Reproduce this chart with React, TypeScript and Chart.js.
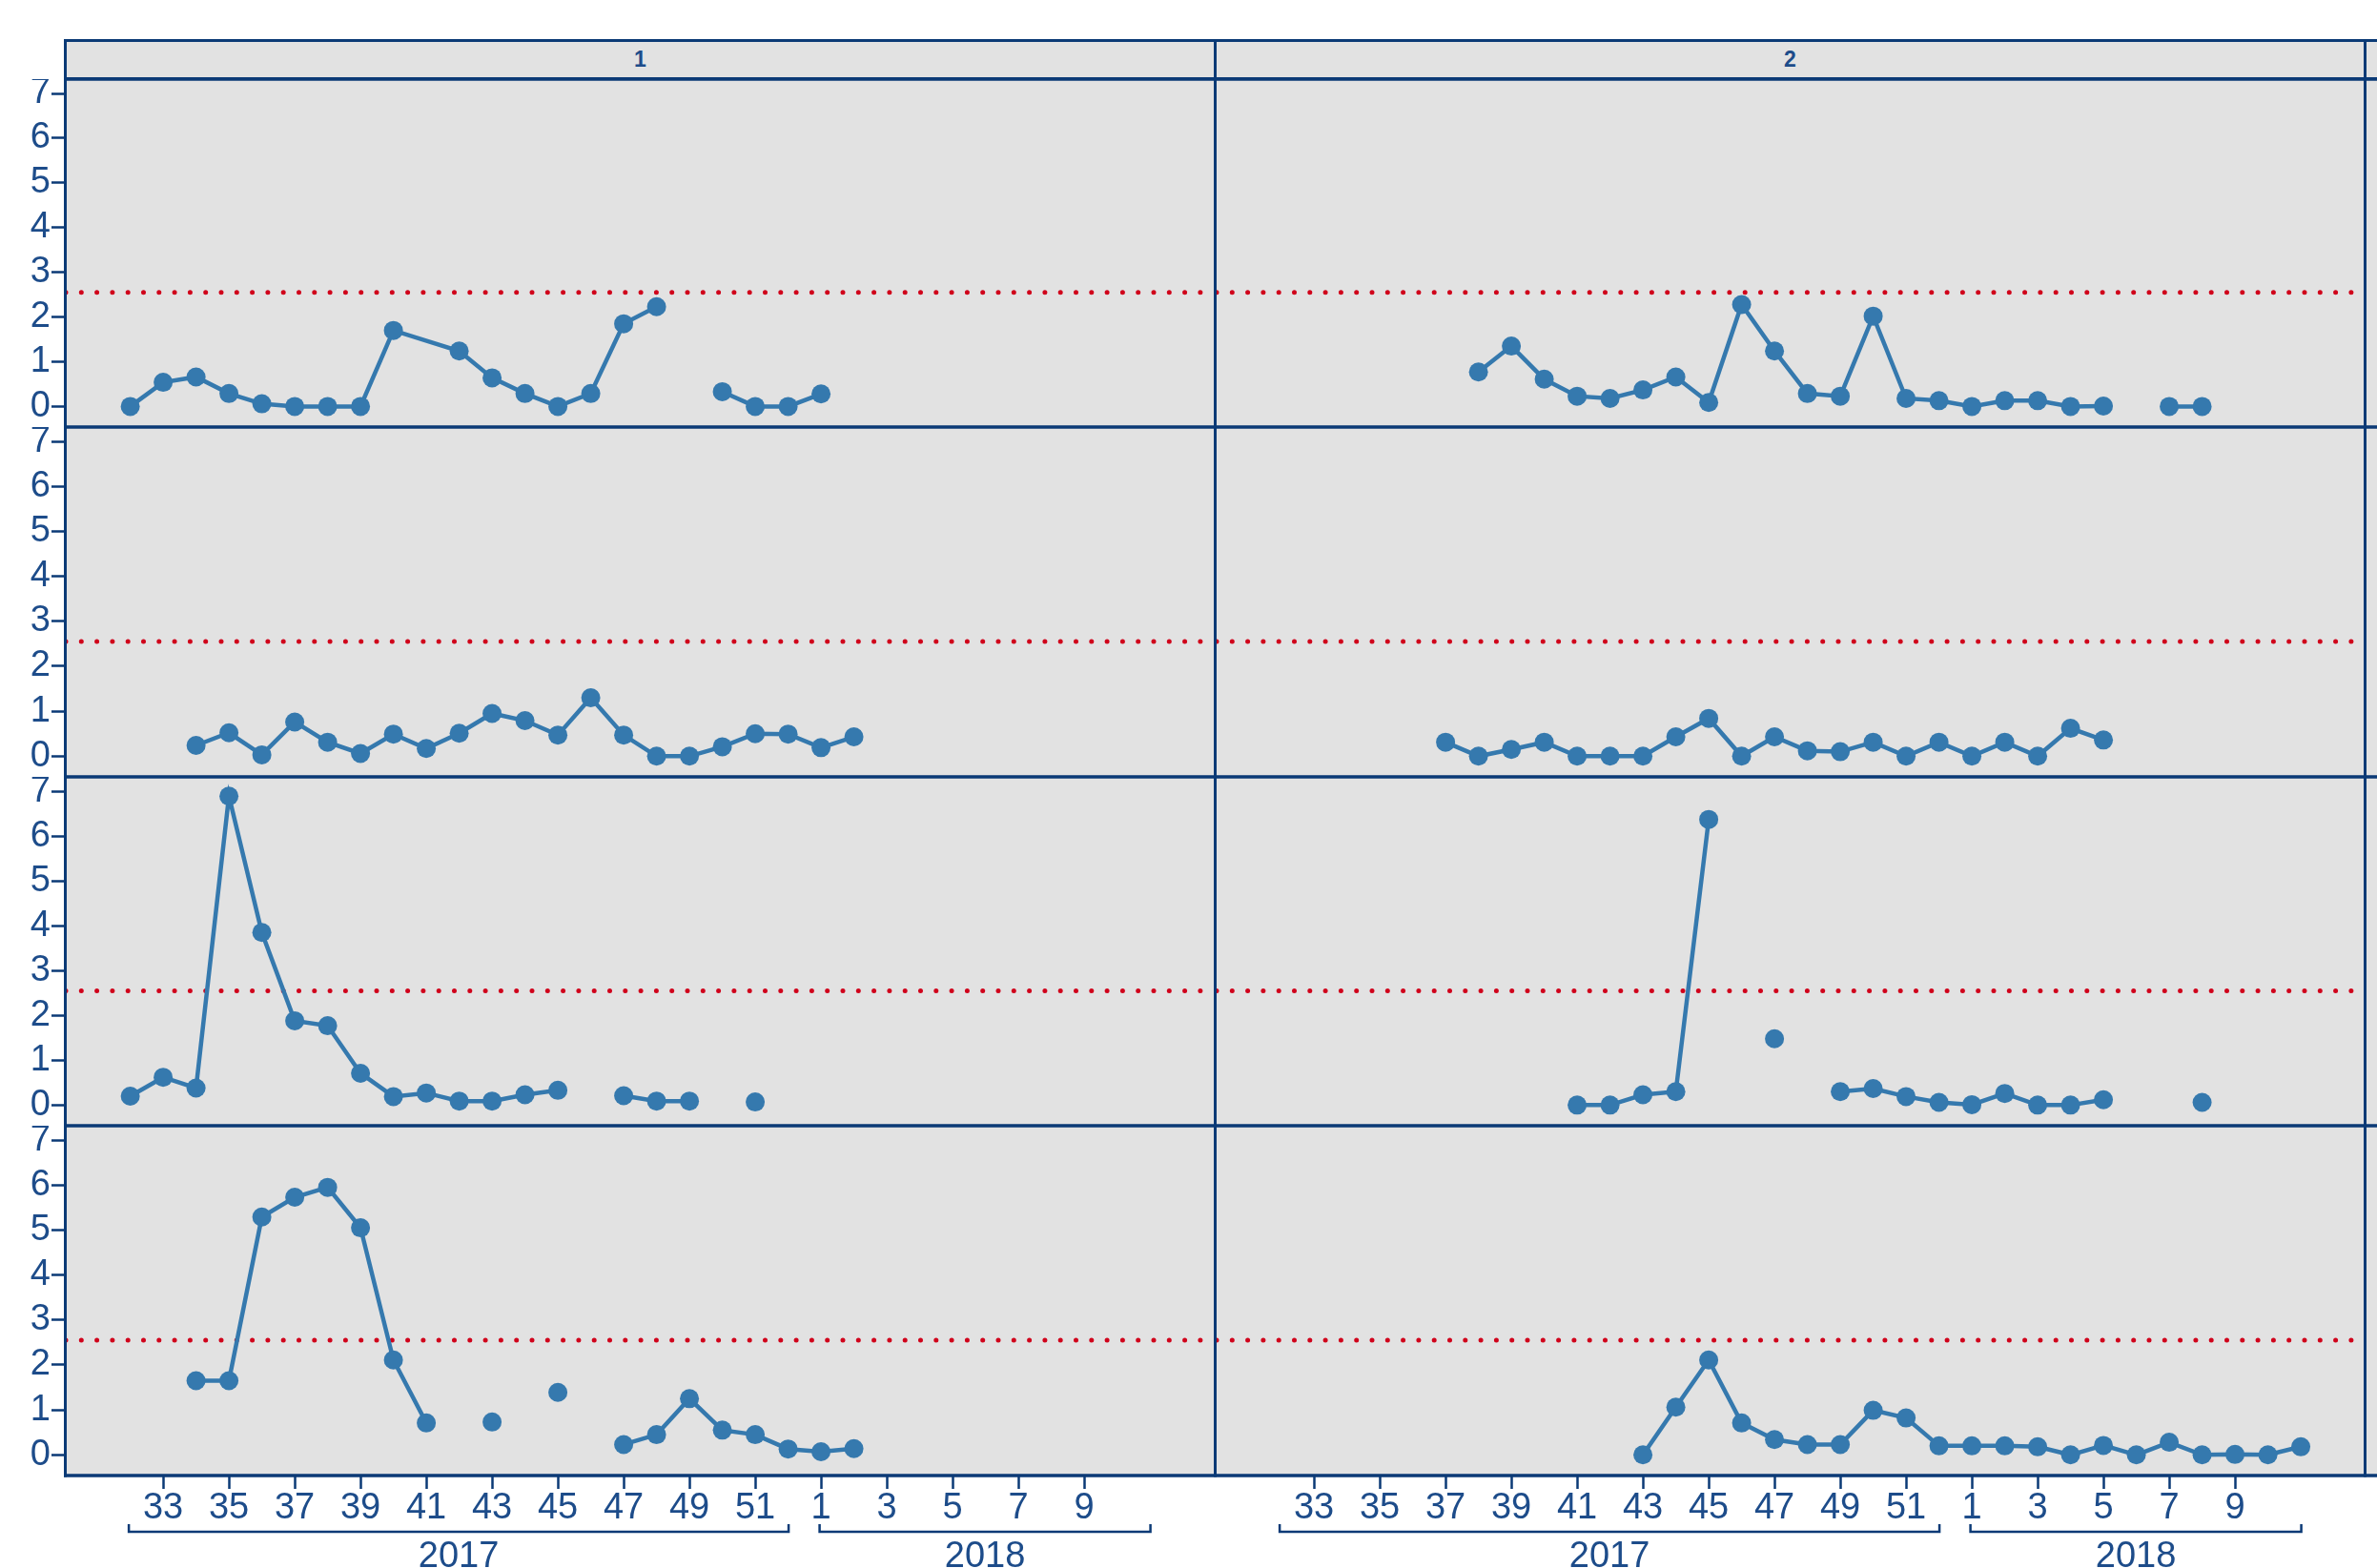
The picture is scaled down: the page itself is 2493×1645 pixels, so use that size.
import React, { useEffect, useRef } from 'react';
import { Chart, registerables } from 'chart.js';

Chart.register(...registerables);

// ---------- data ----------
// null = week present but no value (line breaks); NO_ROW = week absent (line joins its neighbours)
const NO_ROW = undefined;
const WEEKS = ['32', '33', '34', '35', '36', '37', '38', '39', '40', '41', '42', '43', '44', '45', '46', '47', '48', '49', '50', '51', '52',
  '1', '2', '3', '4', '5', '6', '7', '8', '9', '10', '11'];
const X_TICK_LABELS = ['33', '35', '37', '39', '41', '43', '45', '47', '49', '51', '1', '3', '5', '7', '9'];
const Y_TICKS = [0, 1, 2, 3, 4, 5, 6, 7];
const YEARS = ['2017', '2018'];
const YEAR_FIRST_WEEK = ['32', '1'];
const YEAR_LAST_WEEK = ['52', '11'];
const FACETS = ['1', '2'];
const THRESHOLD = 2.55;

const ROW1_F1 = [0, 0.54, 0.66, 0.29, 0.06, 0, 0, 0, 1.70, NO_ROW, 1.24, 0.64, 0.29, 0, 0.29, 1.85, 2.23, null, 0.33, 0, 0,
  0.28, null, null, null, null, null, null, null, null, null, null];
const ROW1_F2 = [null, null, null, null, null, null, 0.77, 1.35, 0.61, 0.23, 0.18, 0.37, 0.66, 0.09, 2.28, 1.24, 0.29, 0.23, 2.02, 0.18, 0.13,
  0, 0.13, 0.13, 0, 0.01, null, 0, 0, null, null, null];
const ROW2_F1 = [null, null, 0.24, 0.52, 0.03, 0.76, 0.31, 0.06, 0.49, 0.17, 0.51, 0.95, 0.79, 0.47, 1.30, 0.47, 0, 0, 0.21, 0.50, 0.49,
  0.19, 0.43, null, null, null, null, null, null, null, null, null];
const ROW2_F2 = [null, null, null, null, null, 0.31, 0, 0.15, 0.31, 0, 0, 0, 0.43, 0.84, 0, 0.43, 0.12, 0.10, 0.31, 0, 0.31,
  0, 0.31, 0, 0.62, 0.36, null, null, null, null, null, null];
const ROW3_F1 = [0.20, 0.62, 0.38, 6.89, 3.85, 1.88, 1.77, 0.71, 0.19, 0.27, 0.09, 0.09, 0.23, 0.33, null, 0.21, 0.09, 0.09, null, 0.07, null,
  null, null, null, null, null, null, null, null, null, null, null];
const ROW3_F2 = [null, null, null, null, null, null, null, null, null, 0, 0, 0.23, 0.30, 6.37, null, 1.48, null, 0.30, 0.37, 0.19, 0.06,
  0.01, 0.26, 0, 0, 0.12, null, null, 0.06, null, null, null];
const ROW4_F1 = [null, null, 1.65, 1.65, 5.29, 5.73, 5.95, 5.05, 2.11, 0.71, null, 0.73, null, 1.39, null, 0.23, 0.45, 1.25, 0.55, 0.45, 0.13,
  0.07, 0.14, null, null, null, null, null, null, null, null, null];
const ROW4_F2 = [null, null, null, null, null, null, null, null, null, null, null, 0, 1.06, 2.11, 0.71, 0.34, 0.23, 0.23, 0.99, 0.82, 0.20,
  0.20, 0.20, 0.18, 0, 0.21, 0, 0.28, 0, 0.01, 0, 0.18];

const GRID_VALUES = [
  [ROW1_F1, ROW1_F2],
  [ROW2_F1, ROW2_F2],
  [ROW3_F1, ROW3_F2],
  [ROW4_F1, ROW4_F2],
];

// ---------- style / layout ----------
const NAVY = '#0b3a76';
const TEXT = '#1d4c8a';
const BLUE = '#3579ae';
const RED = '#d0021b';
const PANEL_BG = '#e2e2e2';
const FONT = '"Liberation Sans", Arial, sans-serif';

const X_MIN = -1.96;
const X_MAX = 32.94;
const Y_MIN = -0.46;
const Y_MAX = 7.32;

const COL_LEFT = [0, 1276];
const COL_W = [1276, 1217];
const COL_PAD_RIGHT = [3, 13];
const ROW_TOP = [83, 448, 815, 1181];
const ROW_H = [365, 367, 366, 464];

const framePlugin = {
  id: 'facetFrame',
  beforeDraw(chart: any, _args: any, opts: any) {
    const { ctx, chartArea: a } = chart;
    ctx.save();
    ctx.fillStyle = PANEL_BG;
    ctx.fillRect(a.left, a.top, a.right - a.left, a.bottom - a.top);
    if (opts.col === 1) {
      ctx.fillRect(a.right + 2, a.top, chart.width - a.right - 2, a.bottom - a.top);
    }
    ctx.restore();
  },
  afterDraw(chart: any, _args: any, opts: any) {
    const { ctx, chartArea: a } = chart;
    ctx.save();
    ctx.strokeStyle = NAVY;
    ctx.lineWidth = 3.5;
    const xs = opts.col === 0 ? a.left - 2 : 0;
    const xe = chart.width;
    ctx.beginPath();
    ctx.moveTo(xs, a.top); ctx.lineTo(xe, a.top);
    ctx.moveTo(xs, a.bottom); ctx.lineTo(xe, a.bottom);
    ctx.stroke();
    ctx.lineWidth = 3;
    ctx.beginPath();
    if (opts.col === 0) {
      ctx.moveTo(a.left - 0.5, a.top); ctx.lineTo(a.left - 0.5, a.bottom + 1.5);
      ctx.moveTo(a.right + 1.5, a.top); ctx.lineTo(a.right + 1.5, a.bottom + 1.5);
    } else {
      ctx.moveTo(a.right + 0.5, a.top); ctx.lineTo(a.right + 0.5, a.bottom + 1.5);
    }
    ctx.stroke();

    if (opts.bottom) {
      const sx = chart.scales.x;
      ctx.lineWidth = 2.5;
      ctx.fillStyle = TEXT;
      ctx.font = '38px ' + FONT;
      ctx.textAlign = 'center';
      ctx.textBaseline = 'middle';
      YEARS.forEach((yr, i) => {
        const x1 = sx.getPixelForValue(WEEKS.indexOf(YEAR_FIRST_WEEK[i])) - 1.5;
        const x2 = sx.getPixelForValue(WEEKS.indexOf(YEAR_LAST_WEEK[i])) + 0.5;
        const y = a.bottom + 59;
        ctx.beginPath();
        ctx.moveTo(x1, y - 8); ctx.lineTo(x1, y); ctx.lineTo(x2, y); ctx.lineTo(x2, y - 8);
        ctx.stroke();
        ctx.fillText(yr, (x1 + x2) / 2, a.bottom + 86);
      });
    }
    ctx.restore();
  },
};

function Panel({ row, col }: { row: number; col: number }) {
  const ref = useRef<HTMLCanvasElement | null>(null);
  const values = GRID_VALUES[row][col];
  const isBottom = row === 3;
  const isLeft = col === 0;

  useEffect(() => {
    if (!ref.current) return;
    const points = values
      .map((v, i) => ({ x: i, y: v }))
      .filter((p) => p.y !== undefined);
    const chart = new Chart(ref.current, {
      type: 'line',
      data: {
        datasets: [
          {
            data: points as any,
            borderColor: BLUE,
            backgroundColor: BLUE,
            borderWidth: 4.5,
            pointRadius: 10,
            pointBackgroundColor: BLUE,
            pointBorderWidth: 0,
            spanGaps: false,
            tension: 0,
            order: 1,
          },
          {
            data: [{ x: X_MIN, y: THRESHOLD }, { x: X_MAX, y: THRESHOLD }] as any,
            borderColor: RED,
            borderWidth: 5,
            borderDash: [0, 16.3],
            borderCapStyle: 'round',
            pointRadius: 0,
            order: 2,
          },
        ],
      },
      options: {
        responsive: false,
        animation: false,
        events: [],
        layout: { autoPadding: false, padding: { left: 0, right: COL_PAD_RIGHT[col], top: 0, bottom: 0 } },
        plugins: {
          legend: { display: false },
          tooltip: { enabled: false },
          title: { display: false },
          facetFrame: { col, bottom: isBottom },
        } as any,
        scales: {
          x: {
            type: 'linear',
            min: X_MIN,
            max: X_MAX,
            display: isBottom,
            position: 'bottom',
            afterBuildTicks: (s: any) => {
              s.ticks = X_TICK_LABELS.map((l) => ({ value: WEEKS.indexOf(l) }));
            },
            afterFit: (s: any) => {
              if (isBottom) s.height = 97; else s.height = 0;
              s.paddingLeft = 0;
              s.paddingRight = 0;
            },
            ticks: {
              autoSkip: false,
              maxRotation: 0,
              minRotation: 0,
              color: TEXT,
              padding: 1.5,
              font: { family: FONT, size: 38, lineHeight: 1 },
              callback: (v: any) => WEEKS[v as number],
            },
            grid: { display: true, drawOnChartArea: false, drawTicks: true, tickLength: 14, tickColor: NAVY, tickWidth: 2.5 },
            border: { display: false },
          },
          y: {
            type: 'linear',
            min: Y_MIN,
            max: Y_MAX,
            display: isLeft,
            position: 'left',
            afterBuildTicks: (s: any) => {
              s.ticks = Y_TICKS.map((v) => ({ value: v }));
            },
            afterFit: (s: any) => {
              if (isLeft) s.width = 69; else s.width = 0;
              s.paddingTop = 0;
              s.paddingBottom = 0;
            },
            ticks: {
              autoSkip: false,
              color: TEXT,
              padding: 1,
              font: { family: FONT, size: 38, lineHeight: 1 },
            },
            grid: { display: true, drawOnChartArea: false, drawTicks: true, tickLength: 15, tickColor: NAVY, tickWidth: 2.5 },
            border: { display: false },
          },
        },
      } as any,
      plugins: [framePlugin as any],
    });
    return () => chart.destroy();
  }, []);

  return (
    <canvas
      ref={ref}
      width={COL_W[col]}
      height={ROW_H[row]}
      style={{ position: 'absolute', left: COL_LEFT[col], top: ROW_TOP[row], width: COL_W[col], height: ROW_H[row] }}
    />
  );
}

export default function App() {
  const stripText: React.CSSProperties = {
    position: 'absolute',
    top: 3,
    height: 37,
    lineHeight: '37px',
    background: PANEL_BG,
    textAlign: 'center',
    color: TEXT,
    fontFamily: FONT,
    fontWeight: 'bold',
    fontSize: 23,
  };
  return (
    <div style={{ position: 'absolute', left: 0, top: 0, width: 2493, height: 1645, background: '#ffffff', overflow: 'hidden' }}>
      <div style={{ position: 'absolute', left: 67, top: 41, width: 2426, height: 42, background: NAVY }}>
        <div style={{ ...stripText, left: 3, width: 1203 }}>{FACETS[0]}</div>
        <div style={{ ...stripText, left: 1209, width: 1203 }}>{FACETS[1]}</div>
        <div style={{ ...stripText, left: 2415, width: 11 }}></div>
      </div>
      {GRID_VALUES.map((rowVals, r) =>
        rowVals.map((_, c) => <Panel key={`${r}-${c}`} row={r} col={c} />)
      )}
    </div>
  );
}
